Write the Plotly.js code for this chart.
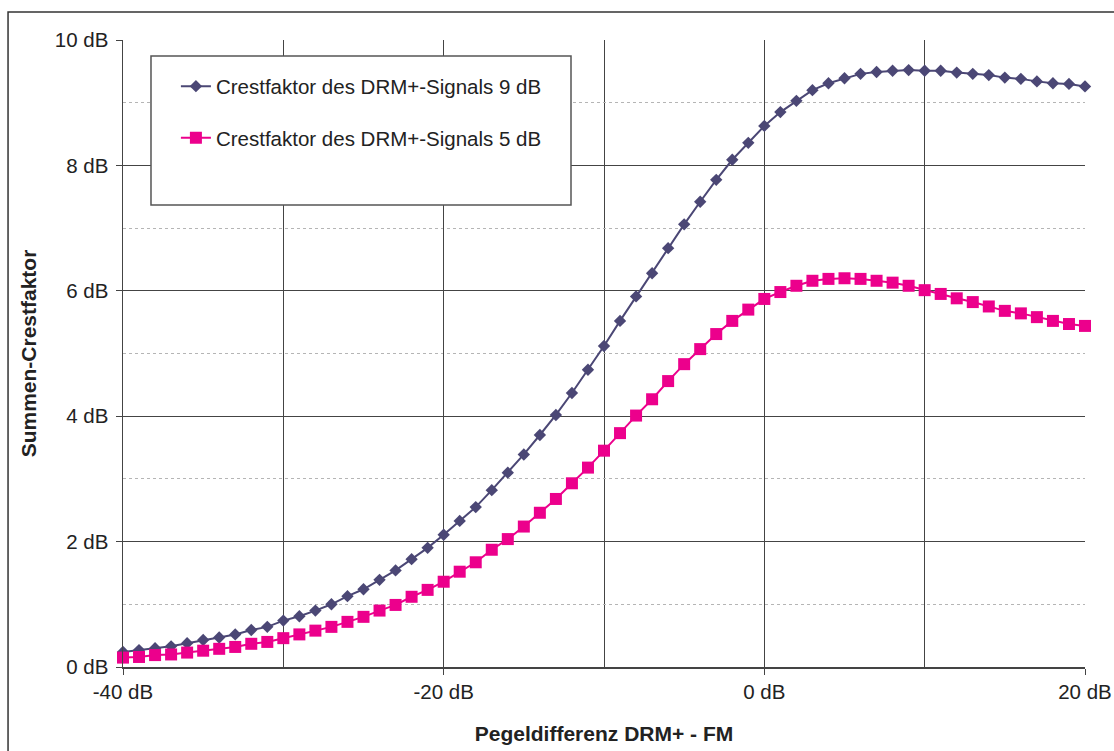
<!DOCTYPE html>
<html>
<head>
<meta charset="utf-8">
<script src="https://cdn.plot.ly/plotly-3.0.1.min.js"></script>
<style>
html,body{margin:0;padding:0;background:#fff;overflow:hidden;}
#chart{width:1114px;height:751px;}
</style>
</head>
<body>
<div id="chart"></div>
<script>
const pegeldifferenz = [-40,-39,-38,-37,-36,-35,-34,-33,-32,-31,-30,-29,-28,-27,-26,-25,-24,-23,-22,-21,-20,-19,-18,-17,-16,-15,-14,-13,-12,-11,-10,-9,-8,-7,-6,-5,-4,-3,-2,-1,0,1,2,3,4,5,6,7,8,9,10,11,12,13,14,15,16,17,18,19,20];
const crest9dB = [0.24,0.27,0.30,0.33,0.38,0.43,0.47,0.52,0.59,0.64,0.74,0.81,0.90,1.00,1.13,1.24,1.39,1.54,1.72,1.90,2.11,2.33,2.55,2.82,3.10,3.39,3.70,4.02,4.37,4.74,5.12,5.52,5.91,6.28,6.68,7.06,7.42,7.77,8.09,8.36,8.63,8.85,9.03,9.20,9.31,9.39,9.46,9.49,9.51,9.52,9.51,9.51,9.48,9.46,9.44,9.40,9.38,9.34,9.31,9.30,9.26];
const crest5dB = [0.15,0.16,0.19,0.20,0.23,0.26,0.29,0.32,0.37,0.40,0.46,0.52,0.58,0.64,0.72,0.80,0.90,0.99,1.12,1.23,1.36,1.52,1.67,1.87,2.04,2.24,2.46,2.68,2.93,3.18,3.45,3.73,4.01,4.27,4.56,4.83,5.07,5.31,5.52,5.70,5.87,5.98,6.08,6.16,6.19,6.20,6.19,6.16,6.13,6.08,6.01,5.95,5.88,5.82,5.75,5.68,5.64,5.58,5.52,5.47,5.44];
const seriesNames = ["Crestfaktor des DRM+-Signals 9 dB","Crestfaktor des DRM+-Signals 5 dB"];
const xTickVals = [-40,-20,0,20];
const xTickText = ["-40 dB","-20 dB","0 dB","20 dB"];
const yTickVals = [0,2,4,6,8,10];
const yTickText = ["0 dB","2 dB","4 dB","6 dB","8 dB","10 dB"];

const FONT = "Arial, 'Liberation Sans', sans-serif";
const GRID = "#444444";

const traces = [
  {x: pegeldifferenz, y: crest9dB, name: seriesNames[0], type: "scatter", mode: "lines+markers",
   line: {color: "#4b4775", width: 2}, marker: {symbol: "diamond", size: 9.5, color: "#4b4775"},
   cliponaxis: false, legendgroup: "a"},
  {x: pegeldifferenz, y: crest5dB, name: seriesNames[1], type: "scatter", mode: "lines+markers",
   line: {color: "#ec008c", width: 2}, marker: {symbol: "square", size: 12, color: "#ec008c"},
   cliponaxis: false, legendgroup: "b"}
];

const layout = {
  width: 1114, height: 751,
  margin: {l: 123, r: 29, t: 40, b: 84},
  paper_bgcolor: "#ffffff", plot_bgcolor: "#ffffff",
  font: {family: FONT, size: 20, color: "#222222"},
  showlegend: true,
  legend: {x: 0.055, y: 0.958, xanchor: "left", yanchor: "top", bgcolor: "rgba(0,0,0,0)",
           borderwidth: 0, font: {family: FONT, size: 20.5, color: "#222222"},
           traceorder: "grouped", tracegroupgap: 22},
  xaxis: {
    range: [-40, 20], tickmode: "array", tickvals: xTickVals, ticktext: xTickText,
    ticks: "outside", ticklen: 6, tickcolor: GRID, tickwidth: 1,
    showgrid: true, gridcolor: GRID, gridwidth: 1,
    minor: {dtick: 10, tick0: 0, showgrid: true, gridcolor: GRID, gridwidth: 1, ticks: ""},
    zeroline: false, showline: true, linecolor: GRID, linewidth: 1.5,
    tickfont: {family: FONT, size: 20.5, color: "#222222"},
    title: {text: "Pegeldifferenz DRM+ - FM", font: {family: FONT, size: 21, color: "#222222", weight: "bold"}, standoff: 24}
  },
  yaxis: {
    range: [0, 10], tickmode: "array", tickvals: yTickVals, ticktext: yTickText,
    ticks: "outside", ticklen: 6, tickcolor: GRID, tickwidth: 1,
    showgrid: true, gridcolor: GRID, gridwidth: 1.3,
    minor: {dtick: 1, tick0: 0, showgrid: true, gridcolor: "#b5b5b5", gridwidth: 1, griddash: "dot", ticks: ""},
    zeroline: false, showline: true, linecolor: GRID, linewidth: 1.5,
    ticklabelstandoff: 3,
    tickfont: {family: FONT, size: 20.5, color: "#222222"},
    title: {text: "Summen-Crestfaktor", font: {family: FONT, size: 21, color: "#222222", weight: "bold"}, standoff: 12}
  },
  shapes: [
    {type: "rect", xref: "paper", yref: "paper", x0: -0.1195, x1: 1.3, y0: -0.5, y1: 1.0447,
     line: {color: "#333333", width: 1.5}, fillcolor: "rgba(0,0,0,0)", layer: "below"},
    {type: "rect", xref: "paper", yref: "paper", x0: 0.0291, x1: 0.4657, y0: 0.7368, y1: 0.9745,
     line: {color: "#555555", width: 1.5}, fillcolor: "#ffffff", layer: "above"}
  ]
};

Plotly.newPlot("chart", traces, layout, {displayModeBar: false, staticPlot: true});
</script>
</body>
</html>
